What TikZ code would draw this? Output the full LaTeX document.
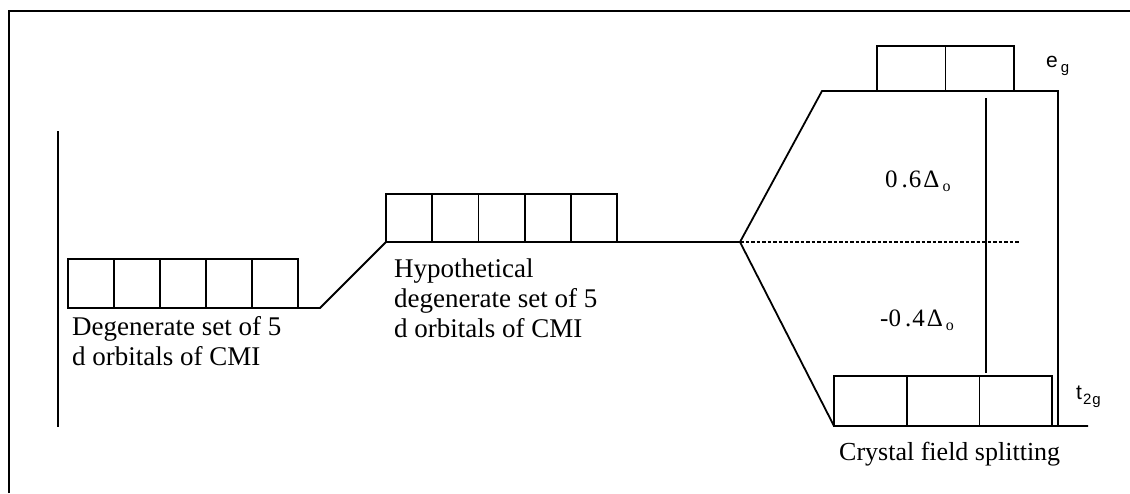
\documentclass[tikz,border=0pt]{standalone}
\usepackage{fontspec}
\setmainfont{Liberation Serif}
\newfontfamily\labsans{Liberation Sans}
\newcommand{\subsm}[1]{\raisebox{-5pt}{\fontsize{15}{15}\selectfont #1}}
\newcommand{\subdel}[1]{\raisebox{-4pt}{\fontsize{16}{16}\selectfont #1}}
\begin{document}
\begin{tikzpicture}[x=1pt,y=-1pt,
  ln/.style={line width=1.8pt},
  orb/.style={draw,line width=1.8pt,inner sep=0pt,outer sep=0pt,anchor=south west},
  lsetL/.style={orb,minimum width=46pt,minimum height=49pt},
  lsetM/.style={orb,minimum width=46.2pt,minimum height=48pt},
  lsetE/.style={orb,minimum width=68.5pt,minimum height=45pt},
  lsetT/.style={orb,minimum width=72.7pt,minimum height=50pt},
  lbl/.style={font=\fontsize{27}{30}\selectfont,align=left,inner sep=0pt},
  dlbl/.style={font=\fontsize{25}{25}\selectfont,inner sep=0pt,anchor=base west},
  slbl/.style={font=\labsans\fontsize{21}{21}\selectfont,inner sep=0pt,anchor=base west},
]
\useasboundingbox (0,0) rectangle (1130,493);
% frame
\draw[line width=2.6pt] (9,493) -- (9,11) -- (1130,11);
% left axis
\coordinate (axT) at (58,131);
\coordinate (axB) at (58,427);
\draw[ln] (axT) -- (axB);
% orbital sets
\foreach \i in {1,...,5} {
  \node[lsetL] (L\i) at ({68+46*(\i-1)},308) {};
  \node[lsetM] (M\i) at ({386+46.2*(\i-1)},242) {};
}
\foreach \i in {1,2} { \node[lsetE] (E\i) at ({877+68.5*(\i-1)},91) {}; }
\foreach \i in {1,2,3} { \node[lsetT] (T\i) at ({834+72.7*(\i-1)},426) {}; }
% connectors
\coordinate (lk) at (320,308);
\coordinate (apex) at (740,242);
\coordinate (up) at (822,91);
\coordinate (rTop) at (1058,91);
\coordinate (rBot) at (1058,426);
\coordinate (bEnd) at (1088,426);
\coordinate (mTop) at (986,98);
\coordinate (mBot) at (986,373);
\coordinate (dEnd) at (1020,242);
\draw[ln] (L5.south east) -- (lk) -- (M1.south west);
\draw[ln] (M5.south east) -- (apex);
\draw[ln] (apex) -- (up) -- (rTop) -- (rBot);
\draw[ln] (apex) -- (T1.south west) -- (bEnd);
\draw[ln] (mTop) -- (mBot);
\draw[line width=1.3pt,dash pattern=on 3.5pt off 2pt] (apex) -- (dEnd);
% labels
\node[lbl,anchor=north west] (tL) at (72,316) {Degenerate set of 5\\d orbitals of CMI};
\node[lbl,anchor=north west] (tM) at (394,259) {Hypothetical\\degenerate set of 5\\d orbitals of CMI};
\node[lbl,anchor=base west,font=\fontsize{26}{30}\selectfont] (tC) at (839,460) {Crystal field splitting};
\node[dlbl] (d6) at (885,187) {0\kern4pt.\kern1pt6\kern2pt Δ\kern3pt\subdel{o}};
\node[dlbl] (d4) at (880,326) {-0\kern4pt.\kern1pt4\kern2pt Δ\kern3pt\subdel{o}};
\node[slbl] (eg) at (1046,67) {e\kern3pt\subsm{g}};
\node[slbl] (t2g) at (1076,399) {t\kern1pt\subsm{2\kern1pt g}};
\end{tikzpicture}
\end{document}
